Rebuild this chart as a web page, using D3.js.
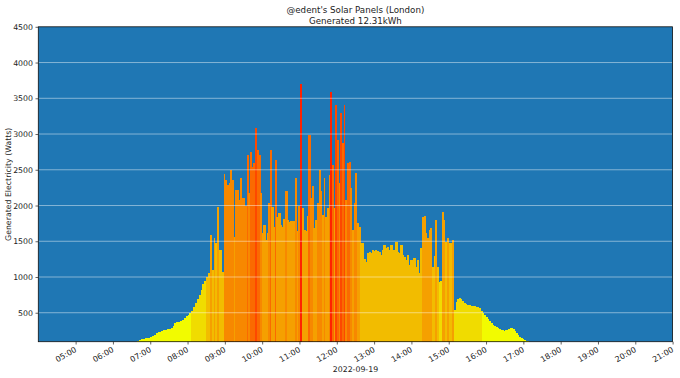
<!DOCTYPE html>
<html><head><meta charset="utf-8">
<script src="https://cdn.jsdelivr.net/npm/d3@7"></script>
<style>
html,body{margin:0;padding:0;background:#fff;}
svg{display:block;font-family:"DejaVu Sans",sans-serif;}
</style></head>
<body><svg id="c" width="680" height="378"></svg>
<script>
const chartDate = "2022-09-19";
const titleLines = ["@edent's Solar Panels (London)", "Generated 12.31kWh"];
const yLabel = "Generated Electricity (Watts)";
const xLabel = "2022-09-19";
const yTicks = [500,1000,1500,2000,2500,3000,3500,4000,4500];
const xTickLabels = ["05:00","06:00","07:00","08:00","09:00","10:00","11:00","12:00","13:00","14:00","15:00","16:00","17:00","18:00","19:00","20:00","21:00"];
const binColors = ["#f2fb00","#f0dc00","#f2bc00","#f5a000","#f78800","#fa6a00","#fd4800","#ff2200"];

const times = [
"06:39","06:42","06:45","06:48","06:51","06:54","06:57","07:00","07:03","07:06","07:09","07:12","07:15","07:18","07:21","07:24","07:27","07:30","07:33","07:36","07:39","07:42","07:45","07:48","07:51","07:54","07:57","08:00","08:03","08:06","08:09","08:12","08:15","08:18","08:21","08:24","08:27","08:30","08:33",
"08:36","08:39","08:42","08:44","08:47","08:50","08:52","08:55","08:58","09:00","09:03","09:06","09:08","09:11","09:14","09:16","09:19","09:22","09:24","09:27","09:30","09:32","09:35","09:38","09:41","09:43","09:46","09:49","09:51","09:54","09:57","09:59",
"10:02","10:05","10:07","10:10","10:13","10:15","10:18","10:21","10:23","10:26","10:29","10:31","10:34","10:37","10:40","10:42","10:45","10:48","10:50","10:53","10:56","10:58",
"11:01","11:04","11:06","11:09","11:12","11:14","11:17","11:20","11:22","11:25","11:28","11:31","11:33","11:36","11:39","11:41","11:44","11:47","11:49","11:52","11:55","11:57",
"12:00","12:03","12:05","12:08","12:11","12:13","12:16","12:19","12:22","12:24","12:27","12:30","12:32","12:35","12:38","12:40","12:43","12:46","12:48","12:51","12:54","12:56","12:59",
"13:02","13:04","13:07","13:10","13:12","13:15","13:18","13:21","13:23","13:26","13:29","13:31","13:34","13:37","13:39","13:42","13:45","13:47","13:50","13:53","13:55","13:58",
"14:01","14:03","14:06","14:09","14:12","14:14","14:17","14:20","14:22","14:25","14:28","14:30","14:33","14:36","14:38","14:41","14:44","14:46","14:49","14:52","14:54","14:57",
"15:00","15:02","15:05","15:08","15:11","15:13","15:16","15:19","15:21","15:24","15:27","15:29","15:32","15:35","15:37","15:40","15:43","15:45","15:48","15:51","15:54","15:56","15:59",
"16:02","16:04","16:07","16:10","16:12","16:15","16:18","16:20","16:23","16:26","16:28","16:31","16:34","16:36","16:39","16:42","16:45","16:47","16:50","16:53","16:55","16:58",
"17:01","17:03","17:06"
];
const watts = [
110,120,130,135,140,145,150,160,175,195,210,225,235,245,255,262,268,275,290,320,350,365,375,390,405,425,450,470,490,530,580,630,690,750,820,900,950,1000,1060,
1585,1100,1540,1470,1980,1375,1375,1073,2435,2355,2285,2310,2495,2355,1560,2215,2215,2075,2380,2100,2100,2000,2705,2170,2750,2540,2590,3080,2775,2705,2170,1615,
1725,1515,1615,2035,2775,1980,1700,2635,1840,1895,1730,1700,1810,2200,1800,1770,1780,1760,1790,2380,1650,2000,
3695,1960,1655,1640,1850,2985,2100,2270,1680,1795,2030,2495,2200,1865,2380,1840,1960,2420,3590,2565,1960,3400,
2915,2310,3290,2870,3400,2075,2590,2610,2250,1655,2035,2450,1755,1700,1475,1475,1250,1215,1330,1355,1340,1375,1370,
1375,1370,1355,1305,1375,1445,1410,1420,1375,1445,1375,1375,1495,1355,1330,1445,1310,1285,1235,1305,1165,1240,
1145,1260,1145,1240,1055,1405,1845,1850,1615,1545,1655,1685,1145,1300,1795,1145,935,940,1905,1795,1495,1545,
1475,1480,1515,540,650,690,705,695,660,640,625,610,605,600,595,590,585,580,560,530,495,470,440,
410,380,355,330,310,295,280,270,260,255,250,255,260,270,280,270,250,210,185,165,145,128,
115,108,100
];

const svg = d3.select("#c");
const L = 38.3, R = 672.6, T = 26.8, B = 341.7;
const parse = d3.timeParse("%Y-%m-%d %H:%M");
const dates = times.map(t => parse(chartDate + " " + t));
const x = d3.scaleTime().domain([parse(chartDate+" 04:00"), parse(chartDate+" 21:00")]).range([L, R]);
const y = d3.scaleLinear().domain([95, 4500]).range([B, T]);
const colorOf = v => binColors[Math.min(binColors.length-1, Math.floor(v/500))];

svg.append("rect").attr("x", L).attr("y", T).attr("width", R-L).attr("height", B-T).attr("fill", "#1f77b4");

const data = watts.map((v,i) => ({v, t: dates[i], t2: i < dates.length-1 ? dates[i+1] : d3.timeMinute.offset(dates[i], 3)}));
svg.append("g").attr("shape-rendering", "crispEdges").selectAll("rect").data(data).join("rect")
  .attr("x", d => x(d.t))
  .attr("width", d => Math.max(0.5, x(d.t2) - x(d.t) + 0.5))
  .attr("y", d => y(d.v))
  .attr("height", d => B - y(d.v))
  .attr("fill", d => colorOf(d.v));

// grid
svg.append("g").selectAll("line").data(yTicks.filter(v => v < 4500)).join("line")
  .attr("x1", L).attr("x2", R).attr("y1", d => y(d)).attr("y2", d => y(d))
  .attr("stroke", "#ffffff").attr("stroke-opacity", 0.45).attr("stroke-width", 1);

// axes
const yAxis = d3.axisLeft(y).tickValues(yTicks).tickSize(2.8).tickPadding(2.5).tickFormat(d3.format("d"));
const gy = svg.append("g").attr("transform", `translate(${L},0)`).call(yAxis);
gy.select(".domain").remove();
gy.selectAll("text").attr("font-size", 7.8).attr("fill", "#222").attr("font-family", "DejaVu Sans");
gy.selectAll("line").attr("stroke", "#222").attr("stroke-width", 0.7);

const xTickDates = xTickLabels.map(s => parse(chartDate + " " + s));
const xAxis = d3.axisBottom(x).tickValues(xTickDates).tickSize(2.8).tickPadding(2).tickFormat((d,i) => xTickLabels[i]);
const gx = svg.append("g").attr("transform", `translate(0,${B})`).call(xAxis);
gx.select(".domain").remove();
gx.selectAll("line").attr("stroke", "#222").attr("stroke-width", 0.7);
gx.selectAll("text").attr("font-size", 7.9).attr("fill", "#222").attr("font-family", "DejaVu Sans")
  .attr("text-anchor", "end").attr("dy", null).attr("y", 0)
  .attr("transform", "translate(1,9.5) rotate(-30)");

svg.append("rect").attr("x", L).attr("y", T).attr("width", R-L).attr("height", B-T)
  .attr("fill", "none").attr("stroke", "#111").attr("stroke-width", 0.8);

// titles
svg.append("text").attr("x", (L+R)/2).attr("y", 13).attr("text-anchor", "middle").attr("font-size", 8.7).attr("fill", "#222").text(titleLines[0]);
svg.append("text").attr("x", (L+R)/2).attr("y", 24).attr("text-anchor", "middle").attr("font-size", 8.7).attr("fill", "#222").text(titleLines[1]);
svg.append("text").attr("x", (L+R)/2).attr("y", 372).attr("text-anchor", "middle").attr("font-size", 7.8).attr("fill", "#222").text(xLabel);
svg.append("text").attr("transform", `translate(11,${(T+B)/2}) rotate(-90)`).attr("text-anchor", "middle").attr("font-size", 7.8).attr("fill", "#222").text(yLabel);
</script></body></html>
